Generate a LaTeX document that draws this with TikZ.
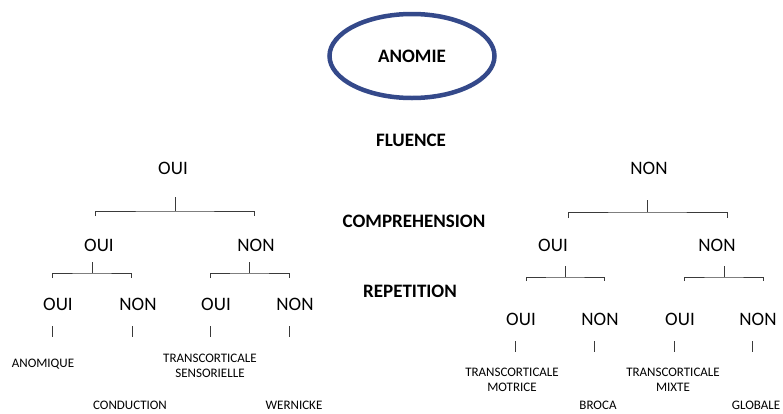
\documentclass[tikz,border=0pt]{standalone}
\usepackage{fontspec}
\setmainfont{Carlito}
\usetikzlibrary{shapes.geometric,calc}
\definecolor{anomieblue}{HTML}{34498A}
\definecolor{linegrey}{HTML}{3A3A3A}

\begin{document}
\begin{tikzpicture}[x=1pt, y=-1pt,
    title/.style={font=\fontsize{19}{22}\selectfont\bfseries, inner sep=0pt},
    answer/.style={font=\fontsize{19}{22}\selectfont, inner sep=0pt},
    leaf/.style={font=\fontsize{13}{15}\selectfont, align=center, inner sep=0pt},
    branch/.style={draw=linegrey, line width=0.9pt}
]
    \useasboundingbox (0,0) rectangle (783,413);

    % Title and criteria
    \node[ellipse, draw=anomieblue, line width=4.5pt, minimum width=165pt, minimum height=84pt, title] (anomie) at (412,56) {ANOMIE};
    \node[title] (fluence) at (411,140) {FLUENCE};
    \node[title] (compr) at (414,221) {COMPREHENSION};
    \node[title] (repet) at (410,291) {REPETITION};

    % Fluence
    \node[answer] (f_oui) at (173,168) {OUI};
    \node[answer] (f_non) at (649,168) {NON};

    % Comprehension
    \node[answer] (c1_oui) at (99,245) {OUI};
    \node[answer] (c1_non) at (256,245) {NON};
    \node[answer] (c2_oui) at (553,245) {OUI};
    \node[answer] (c2_non) at (717,245) {NON};

    % Repetition
    \node[answer] (r1_oui) at (58,304) {OUI};
    \node[answer] (r1_non) at (138,304) {NON};
    \node[answer] (r2_oui) at (216,304) {OUI};
    \node[answer] (r2_non) at (295,304) {NON};
    \node[answer] (r3_oui) at (521,319) {OUI};
    \node[answer] (r3_non) at (600,319) {NON};
    \node[answer] (r4_oui) at (680,319) {OUI};
    \node[answer] (r4_non) at (758,319) {NON};

    % Aphasia types
    \node[leaf] (anomique) at (43,364) {ANOMIQUE};
    \node[leaf] (conduction) at (130,405) {CONDUCTION};
    \node[leaf] (tc_sens) at (210,366) {TRANSCORTICALE\\SENSORIELLE};
    \node[leaf] (wernicke) at (294,405) {WERNICKE};
    \node[leaf] (tc_mot) at (512,380) {TRANSCORTICALE\\MOTRICE};
    \node[leaf] (broca) at (598,405) {BROCA};
    \node[leaf] (tc_mixte) at (673,380) {TRANSCORTICALE\\MIXTE};
    \node[leaf] (globale) at (756,405) {GLOBALE};

    % Bracket ends
    \coordinate (fo_l) at (95,216);  \coordinate (fo_r) at (254,216);
    \coordinate (fn_l) at (568,218); \coordinate (fn_r) at (727,218);
    \coordinate (c1o_l) at (52,278);  \coordinate (c1o_r) at (131,278);
    \coordinate (c1n_l) at (210,278); \coordinate (c1n_r) at (289,278);
    \coordinate (c2o_l) at (526,281); \coordinate (c2o_r) at (604,281);
    \coordinate (c2n_l) at (684,281); \coordinate (c2n_r) at (763,281);

    % Fluence brackets
    \draw[branch] ([xshift=2pt,yshift=-29pt]f_oui.center) -- ++(0,14) coordinate (fo_j);
    \draw[branch] (fo_l) |- (fo_j) -| (fo_r);
    \draw[branch] ([xshift=-2pt,yshift=-32pt]f_non.center) -- ++(0,12) coordinate (fn_j);
    \draw[branch] (fn_l) |- (fn_j) -| (fn_r);

    % Comprehension brackets
    \draw[branch] ([xshift=-7pt,yshift=-17pt]c1_oui.center) -- ++(0,11) coordinate (c1o_j);
    \draw[branch] (c1o_l) |- (c1o_j) -| (c1o_r);
    \draw[branch] ([xshift=-7pt,yshift=-17pt]c1_non.center) -- ++(0,11) coordinate (c1n_j);
    \draw[branch] (c1n_l) |- (c1n_j) -| (c1n_r);
    \draw[branch] ([xshift=12pt,yshift=-21pt]c2_oui.center) -- ++(0,11) coordinate (c2o_j);
    \draw[branch] (c2o_l) |- (c2o_j) -| (c2o_r);
    \draw[branch] ([xshift=7pt,yshift=-21pt]c2_non.center) -- ++(0,11) coordinate (c2n_j);
    \draw[branch] (c2n_l) |- (c2n_j) -| (c2n_r);

    % Repetition ticks
    \foreach \r in {r1_oui,r1_non,r2_oui,r2_non,r3_oui,r3_non,r4_oui,r4_non}
        \draw[branch] ([xshift=-6pt,yshift=-22pt]\r.center) -- ++(0,11);
\end{tikzpicture}
\end{document}
